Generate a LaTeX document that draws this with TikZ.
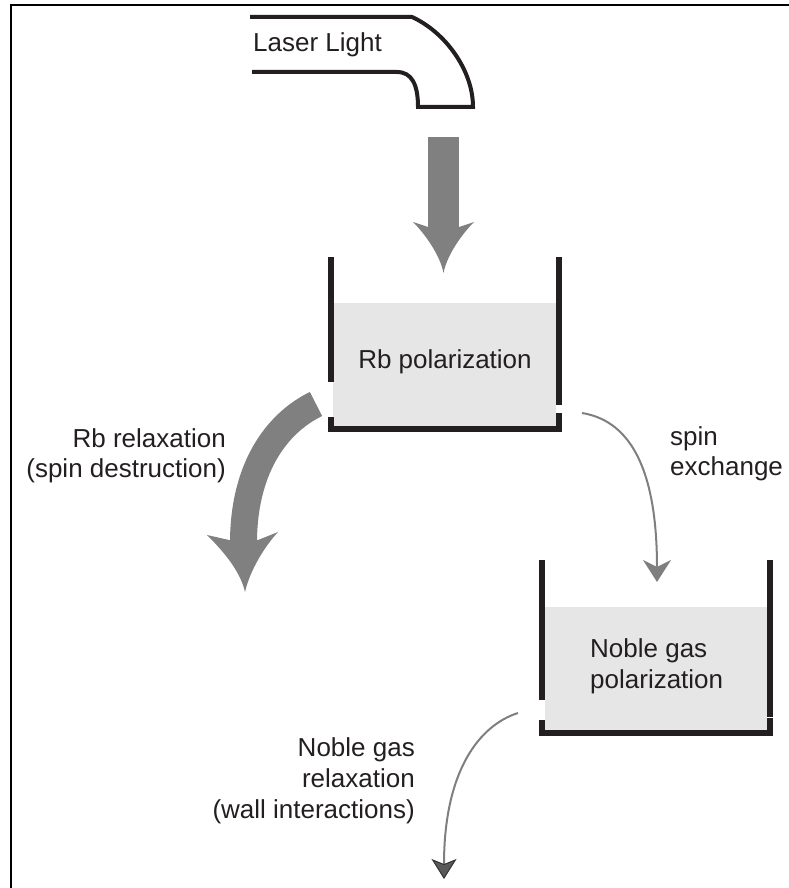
\documentclass[tikz,border=0pt]{standalone}
\usepackage{fontspec}
\setmainfont{Liberation Sans}
\usetikzlibrary{arrows.meta}
\definecolor{arrowgray}{HTML}{808080}
\definecolor{cellfill}{HTML}{E6E6E6}
\definecolor{ink}{HTML}{231F20}
\definecolor{thingray}{HTML}{7F7F7F}
\definecolor{headgray}{HTML}{5A5A5A}
\definecolor{headedge}{HTML}{333333}
\tikzset{
  wallline/.style={line width=6.5pt, draw=ink, line cap=butt, line join=miter},
  pipeline/.style={line width=4pt, draw=ink, line join=miter},
  txt/.style={font=\fontsize{26}{30}\selectfont, inner sep=0pt, text=ink},
  bigarrow/.style={fill=arrowgray, draw=none},
  thinarrow/.style={draw=thingray, line width=2pt},
  cellbg/.style={fill=cellfill, draw=none},
  framebox/.style={draw=black, line width=2.5pt}
}
\begin{document}
\begin{tikzpicture}[x=1pt,y=-1pt]
\useasboundingbox (0,0) rectangle (788,888);
% frame
\draw[framebox] (11,900) -- (11,5) -- (795,5);

% laser pipe
\draw[pipeline] (250,17) -- (412,17) .. controls (445,32) and (473,70) .. (473,107)
  -- (418,107) .. controls (418,85) and (412,72) .. (397,72) -- (252,72);
\node[txt, anchor=base west] (laser) at (253,52) {Laser Light};

% straight down arrow
\fill[bigarrow] (428,137) rectangle (459,229);
\fill[bigarrow] (428,227) -- (413,222) .. controls (425,234) and (440,255) .. (443.5,273)
  .. controls (447,255) and (462,234) .. (474,222) -- (459,227) -- cycle;

% Rb cell
\fill[cellbg] (333,303) rectangle (556,427);
\draw[wallline] (331,257) -- (331,382);
\draw[wallline] (559,257) -- (559,405);
\draw[wallline] (331,417) -- (331,429) -- (559,429) -- (559,413);
\node[txt, anchor=base] (rbpol) at (445,368) {Rb polarization};

% Noble gas cell
\fill[cellbg] (545,607) rectangle (767,730);
\draw[wallline] (542,560) -- (542,700);
\draw[wallline] (770,560) -- (770,717);
\draw[wallline] (542,720) -- (542,733) -- (770,733) -- (770,718);
\node[txt, anchor=base west] (ng1) at (590,657) {Noble gas};
\node[txt, anchor=base west] (ng2) at (590,688) {polarization};

% Rb relaxation big curved arrow
\coordinate (rbstart) at (316,404);
\coordinate (rbend) at (243.5,543);
\draw[draw=arrowgray, line width=27pt, line cap=butt] (rbstart) .. controls (275,424) and (243.5,470) .. (rbend);
\fill[bigarrow] (229,540) -- (207,535) .. controls (222,550) and (240,570) .. (245,592)
  .. controls (250,570) and (265,546) .. (278,532) -- (258,540) -- cycle;
\node[txt, anchor=base east] (rbrel1) at (226,447) {Rb relaxation};
\node[txt, anchor=base east] (rbrel2) at (226,477) {(spin destruction)};

% spin exchange arrow
\coordinate (sxstart) at (582,413);
\coordinate (sxend) at (657,582);
\draw[thinarrow, -{Stealth[length=22pt,width=28pt,inset=7pt]}] (sxstart) .. controls (625,420) and (657,460) .. (sxend);
\node[txt, anchor=base west] (spin1) at (670,445) {spin};
\node[txt, anchor=base west] (spin2) at (670,475) {exchange};

% noble gas relaxation arrow
\coordinate (nrstart) at (518,713);
\coordinate (nrend) at (444,879);
\draw[thinarrow, -{Stealth[length=20pt,width=25pt,inset=5pt,color=headedge,fill=headgray,line width=1pt]}] (nrstart) .. controls (480,725) and (444,770) .. (nrend);
\node[txt, anchor=base east] (nr1) at (415,756) {Noble gas};
\node[txt, anchor=base east] (nr2) at (415,787) {relaxation};
\node[txt, anchor=base east] (nr3) at (415,818) {(wall interactions)};
\end{tikzpicture}
\end{document}
